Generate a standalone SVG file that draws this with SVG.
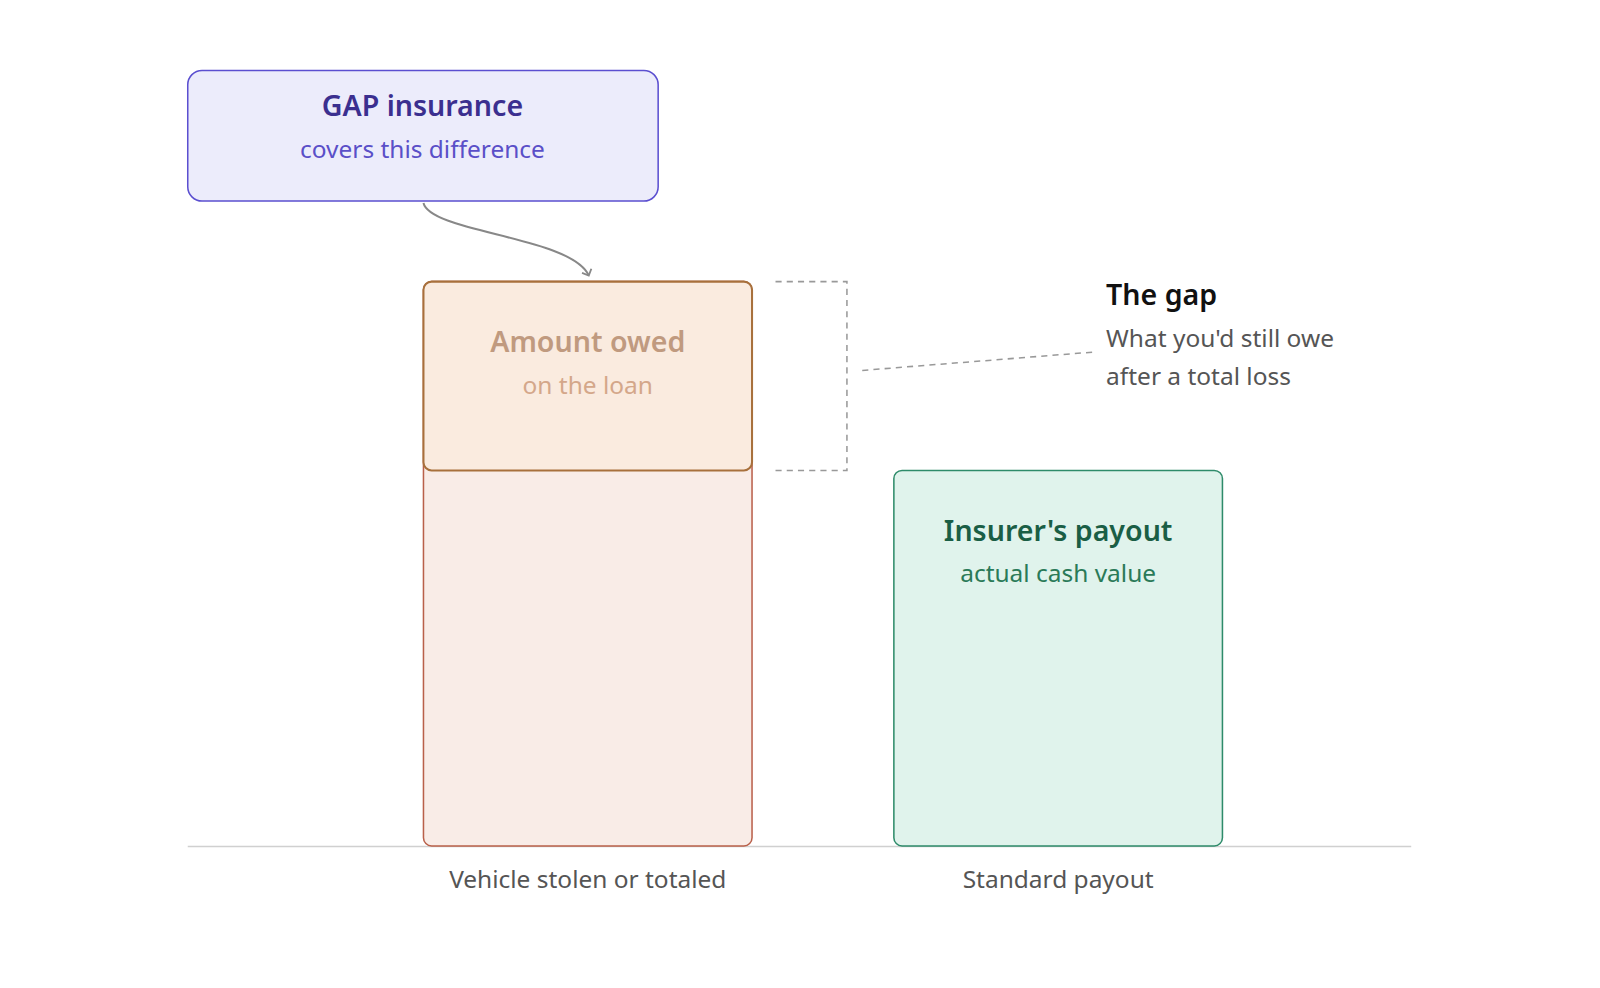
<svg xmlns="http://www.w3.org/2000/svg" width="1600" height="988" viewBox="0 0 1600 988">
<style>
text{font-family:"Noto Sans","Open Sans","Liberation Sans",sans-serif;text-anchor:middle}
.t{font-size:28px;font-weight:600}
.s{font-size:24px}
.l{font-size:24px;fill:#555}
</style>
<defs><marker id="ah" markerWidth="12" markerHeight="12" refX="6" refY="6" orient="auto" markerUnits="userSpaceOnUse"><path d="M1,1 L6,6 L1,11" fill="none" stroke="#888" stroke-width="1.8"/></marker></defs>
<rect width="1600" height="988" fill="#fff"/>
<g transform="scale(1.0204)">
<g id="axis"><line x1="184" y1="829.5" x2="1383" y2="829.5" stroke="#d0d0d0" stroke-width="1.5"/></g>
<g id="bar-vehicle"><rect x="415" y="276" width="322" height="553" rx="8" fill="#f9ece7" stroke="#b9604a" stroke-width="1.5"/></g>
<g id="amount-owed"><rect x="415" y="276" width="322" height="185" rx="8" fill="#faebdf" stroke="#a8703c" stroke-width="2"/>
<text class="t" x="576" y="345" fill="#c09a7f">Amount owed</text>
<text class="s" x="576" y="386" fill="#d4a78a">on the loan</text></g>
<g id="payout"><rect x="876" y="461" width="322" height="368" rx="8" fill="#e0f3ec" stroke="#2e8b6a" stroke-width="1.5"/>
<text class="t" x="1037" y="530" fill="#1a5e45">Insurer's payout</text>
<text class="s" x="1037" y="570" fill="#2a7a58">actual cash value</text></g>
<g id="gap-insurance"><rect x="184" y="69" width="461" height="128" rx="14" fill="#ececfb" stroke="#5b4fd0" stroke-width="1.5"/>
<text class="t" x="414" y="114" fill="#3b2f8f">GAP insurance</text>
<text class="s" x="414" y="155" fill="#5a4fc8">covers this difference</text></g>
<g id="gap-label">
<text class="t" x="1084" y="299" fill="#111" style="text-anchor:start">The gap</text>
<text class="l" x="1084" y="340" style="text-anchor:start">What you'd still owe</text>
<text class="l" x="1084" y="377" style="text-anchor:start">after a total loss</text></g>
<g id="categories"><text class="l" x="576" y="870">Vehicle stolen or totaled</text><text class="l" x="1037" y="870">Standard payout</text></g>
<g id="connectors" fill="none">
<path d="M415,199 C422,228 560,232 577,270" stroke="#888" stroke-width="2" marker-end="url(#ah)"/>
<path d="M760,276 H830 V461 H760" stroke="#999" stroke-width="1.5" stroke-dasharray="6,5"/>
<path d="M845,363 L1072,345" stroke="#999" stroke-width="1.5" stroke-dasharray="6,5"/>
</g>
</g>
</svg>
